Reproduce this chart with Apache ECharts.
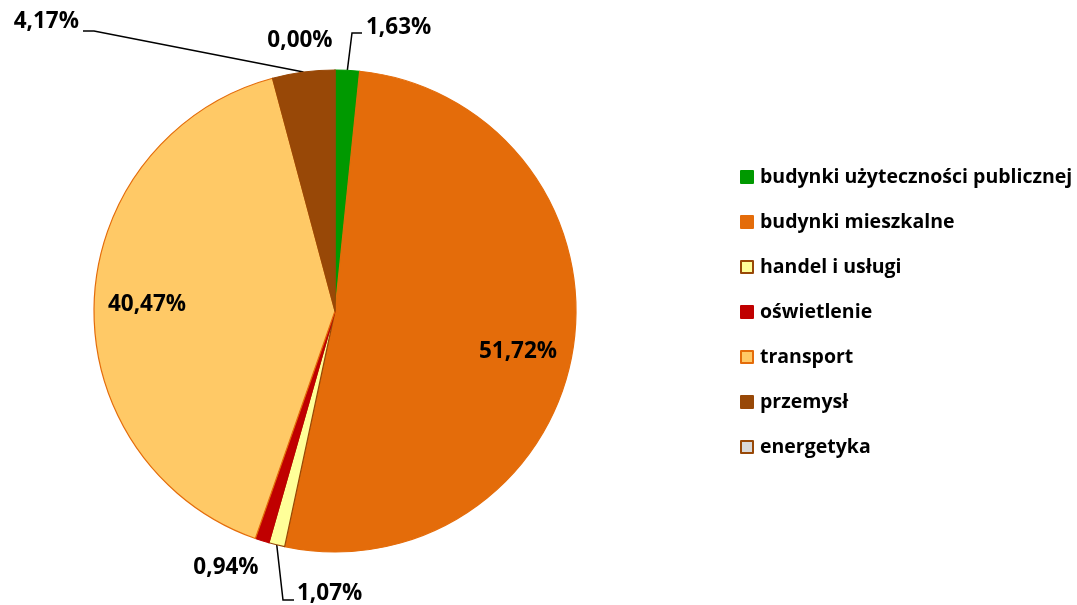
<!DOCTYPE html>
<html>
<head>
<meta charset="utf-8">
<script src="https://cdn.jsdelivr.net/npm/echarts@6/dist/echarts.min.js"></script>
<style>
  html, body { margin: 0; padding: 0; background: #ffffff; }
  #chart { width: 1077px; height: 605px; }
</style>
</head>
<body>
<div id="chart"></div>
<script>
// dane z wykresu
const categories = [
  'budynki użyteczności publicznej',
  'budynki mieszkalne',
  'handel i usługi',
  'oświetlenie',
  'transport',
  'przemysł',
  'energetyka'
];
const shares = [1.63, 51.72, 1.07, 0.94, 40.47, 4.17, 0.00];
const labelTexts = ['1,63%', '51,72%', '1,07%', '0,94%', '40,47%', '4,17%', '0,00%'];

// kolory wycinków
const fills   = ['#009900', '#E46C0A', '#FFFF99', '#C00000', '#FFC966', '#984807', '#D9D9D9'];
const borders = ['#009900', '#E46C0A', '#984807', '#C00000', '#E46C0A', '#984807', '#984807'];

// geometria koła
const CX = 335, CY = 311, R = 241;

// położenie etykiet: [x, y, wyrównanie, punkty linii odniesienia (bez początku)]
const labelPos = [
  [366, 28, 'left',   [[352, 33], [362, 33]]],
  [518, 352, 'center', null],
  [297, 594, 'left',  [[283, 600], [294, 600]]],
  [226, 568, 'center', null],
  [147, 305, 'center', null],
  [79, 22, 'right',   [[94, 31], [83, 31]]],
  [300, 41, 'center', null]
];

// punkt na obwodzie w połowie wycinka
function edgePoint(i) {
  const total = shares.reduce((a, b) => a + b, 0);
  let before = 0;
  for (let k = 0; k < i; k++) before += shares[k];
  const mid = (before + shares[i] / 2) / total * Math.PI * 2;
  return [CX + R * Math.sin(mid), CY - R * Math.cos(mid)];
}

const myChart = echarts.init(document.getElementById('chart'));

const option = {
  backgroundColor: '#ffffff',
  animation: false,
  legend: {
    orient: 'vertical',
    left: 735,
    top: 162,
    itemWidth: 12,
    itemHeight: 12,
    itemGap: 25,
    icon: 'rect',
    textStyle: {
      fontFamily: 'Open Sans',
      fontWeight: 'bold',
      fontSize: 19.5,
      lineHeight: 18,
      color: '#000000',
      padding: [0, 0, 0, 2]
    },
    data: categories
  },
  series: [
    {
      type: 'pie',
      center: [CX, CY],
      radius: [0, R],
      startAngle: 90,
      clockwise: true,
      avoidLabelOverlap: false,
      minShowLabelAngle: 0,
      label: {
        show: true,
        position: 'outside',
        fontFamily: 'Open Sans',
        fontWeight: 'bold',
        fontSize: 22.5,
        color: '#000000',
        formatter: p => labelTexts[p.dataIndex]
      },
      labelLine: {
        show: false,
        lineStyle: { color: '#000000', width: 1.5 }
      },
      labelLayout: function (p) {
        const pos = labelPos[p.dataIndex];
        const out = { x: pos[0], y: pos[1], align: pos[2], verticalAlign: 'middle' };
        if (pos[3]) {
          out.labelLinePoints = [edgePoint(p.dataIndex)].concat(pos[3]);
        }
        return out;
      },
      data: categories.map((name, i) => ({
        name: name,
        value: shares[i],
        itemStyle: { color: fills[i], borderColor: borders[i], borderWidth: 1.2 },
        labelLine: { show: !!labelPos[i][3] }
      }))
    }
  ]
};

myChart.setOption(option);
window.addEventListener('resize', myChart.resize);
</script>
</body>
</html>
